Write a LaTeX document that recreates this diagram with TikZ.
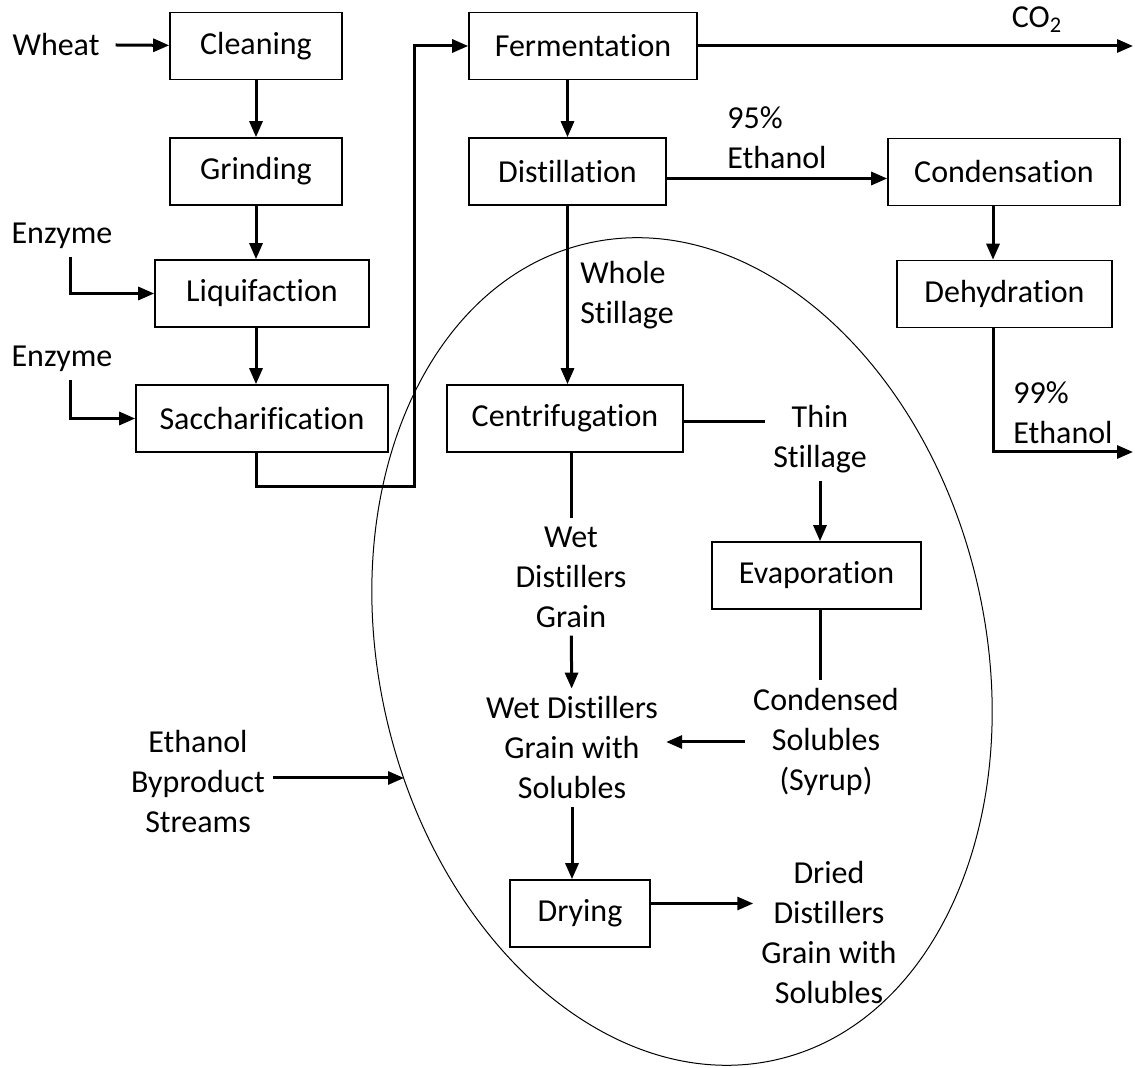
\documentclass[tikz,border=0pt]{standalone}
\usepackage{fontspec}
\setmainfont{Carlito}[Ligatures=NoCommon]
\usepackage{tikz}
\usetikzlibrary{arrows.meta}

\begin{document}
\begin{tikzpicture}[
            > = {Triangle[length=8pt, width=6.5pt]}, % arrow head style
            x = 0.5pt, y = -0.5pt, % one unit per pixel, y runs down
            line width = 1.5pt, % line style
            font = \fontsize{16}{20}\selectfont
        ]

        \tikzstyle{block}=[
            draw = black,
            line width = 0.8pt,
            minimum height = 33.5pt,
            inner sep = 0pt
        ]

        \useasboundingbox (0,0) rectangle (1135,1068);

	\node[block, minimum width=86pt] (clean) at (256,46) {Cleaning};
	\node[block, minimum width=86pt] (grind) at (256,171.5) {Grinding};
	\node[block, minimum width=107pt] (liq) at (262,293.5) {Liquifaction};
	\node[block, minimum width=126pt] (sacch) at (262,418.5) {Saccharification};
	\node[block, minimum width=114pt] (ferm) at (583,46) {Fermentation};
	\node[block, minimum width=98.5pt] (dist) at (567.5,171.5) {Distillation};
	\node[block, minimum width=116pt] (cond) at (1004,172) {Condensation};
	\node[block, minimum width=107.5pt] (dehyd) at (1004.5,294) {Dehydration};
	\node[block, minimum width=118pt] (centr) at (565,418.5) {Centrifugation};
	\node[block, minimum width=104.5pt] (evap) at (816.5,575.5) {Evaporation};
	\node[block, minimum width=70pt] (dry) at (580,913.5) {Drying};

	\node (wheat) at (56,45) {Wheat};
	\node (enz1) at (62,236) {Enzyme};
	\node (enz2) at (62,359) {Enzyme};
	\node (co2) at (1037,20) {CO\textsubscript{2}};
	\node[align=left] (eth95) at (777,138) {95\%\\Ethanol};
	\node[align=left] (whole) at (627,295) {Whole\\Stillage};
	\node[align=center] (thin) at (820,439) {Thin\\Stillage};
	\node[align=left] (eth99) at (1063,413) {99\%\\Ethanol};
	\node[align=center] (wdg) at (571,577) {Wet\\Distillers\\Grain};
	\node[align=center] (wdgs) at (572,748) {Wet Distillers\\Grain with\\Solubles};
	\node[align=center] (syrup) at (826,742) {Condensed\\Solubles\\(Syrup)};
	\node[align=center] (dried) at (829,933) {Dried\\Distillers\\Grain with\\Solubles};
	\node[align=center] (byprod) at (198,782) {Ethanol\\Byproduct\\Streams};

	\coordinate (co2end) at (1133,46);
	\coordinate (eth99end) at (1133,452);
	\coordinate (bend) at (414,487);
	\coordinate (loopin) at (404,778);

        % ethanol line
        \path[->] ([xshift=4pt]wheat.east) edge (clean);
        \path[->] (clean) edge (grind);
        \draw[->] (grind) -- (grind |- liq.north);
        \draw[->] (liq.south -| grind) -- (sacch.north -| grind);
        \draw[->] (enz1.south) ++(8,0) |- (liq);
        \draw[->] (enz2.south) ++(8,0) |- (sacch);
        \draw[->] (sacch.south -| grind) |- (bend) |- (ferm);
        \path[->] (ferm) edge (co2end);
        \draw[->] (ferm.south -| dist) -- (dist.north);
        \draw[->] ([yshift=-3.5pt]dist.east) -- ([yshift=-3.5pt]dist.east -| cond.west);
        \draw[->] ([xshift=-5.5pt]cond.south) -- ([xshift=-5.5pt]cond.south |- dehyd.north);
        \draw[->] ([xshift=-5.5pt]cond.south |- dehyd.south) |- (eth99end);

        % byproduct part
        \draw[->] (dist.south) -- (dist.south |- centr.north);
        \draw ([yshift=-1.75pt]centr.east) -- ([yshift=-1.75pt]centr.east -| thin.west);
        \draw[->] (thin.south) -- (thin.south |- evap.north);
        \draw (centr.south -| wdg) -- (wdg.north);
        \draw[->] (wdg) -- (wdgs);
        \draw (evap.south -| thin) -- (syrup.north -| thin);
        \draw[->] (syrup.west) -- (syrup.west -| wdgs.east);
        \draw[->] (wdgs.south) -- (wdgs.south |- dry.north);
        \draw[->] ([yshift=5pt]dry.east) -- ([yshift=5pt]dry.east -| dried.west);
        \draw[->] (byprod.east |- loopin) -- (loopin);

        \draw[line width=0.5pt, shift={(682,651.5)}, rotate=13.2] (0,0) ellipse [x radius=151.5pt, y radius=209.5pt];

    \end{tikzpicture}
\end{document}
